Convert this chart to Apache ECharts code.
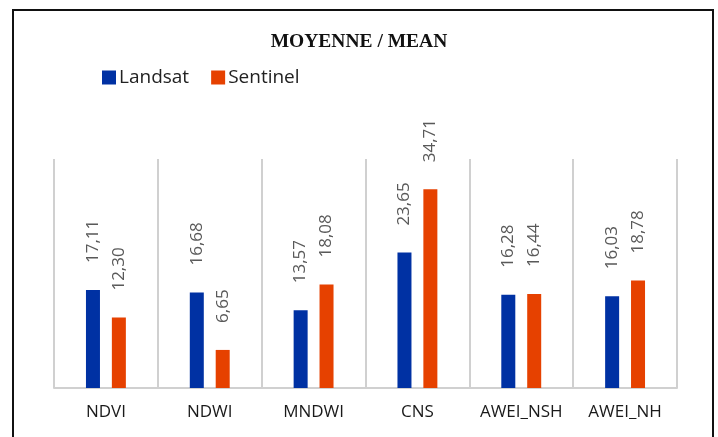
<!DOCTYPE html>
<html>
<head>
<meta charset="utf-8">
<script src="https://cdn.jsdelivr.net/npm/echarts@6/dist/echarts.min.js"></script>
<style>
  html, body { margin: 0; padding: 0; background: #fff; }
  #chart { width: 718px; height: 437px; }
</style>
</head>
<body>
<div id="chart"></div>
<script>
const categories = ['NDVI', 'NDWI', 'MNDWI', 'CNS', 'AWEI_NSH', 'AWEI_NH'];
const landsat = [17.11, 16.68, 13.57, 23.65, 16.28, 16.03];
const sentinel = [12.30, 6.65, 18.08, 34.71, 16.44, 18.78];

const chart = echarts.init(document.getElementById('chart'));

function commaLabel(p) {
  return p.value.toFixed(2).replace('.', ',');
}

const labelStyle = {
  show: true,
  position: 'top',
  distance: 27,
  rotate: 90,
  align: 'left',
  verticalAlign: 'middle',
  color: '#595959',
  fontFamily: 'Open Sans',
  fontSize: 17,
  formatter: commaLabel
};

const option = {
  backgroundColor: '#fff',
  animation: false,
  title: {
    text: 'MOYENNE / MEAN',
    left: 'center',
    top: 27,
    textStyle: {
      fontFamily: 'Liberation Serif',
      fontWeight: 'bold',
      fontSize: 19.5,
      color: '#111'
    }
  },
  legend: {
    left: 97,
    top: 63,
    icon: 'rect',
    itemWidth: 14,
    itemHeight: 14,
    itemGap: 22,
    textStyle: { fontFamily: 'Open Sans', fontSize: 19, color: '#222', padding: [0, 0, 0, -2] },
    data: ['Landsat', 'Sentinel']
  },
  graphic: [{
    type: 'rect',
    shape: { x: 13, y: 10, width: 700, height: 440 },
    style: { fill: 'none', stroke: '#111', lineWidth: 2 },
    silent: true
  }],
  grid: { left: 54, right: 41, top: 159, bottom: 49 },
  xAxis: {
    type: 'category',
    data: categories,
    axisLine: { lineStyle: { color: '#d0d0d0', width: 2 } },
    axisTick: { show: false },
    axisLabel: { interval: 0, color: '#1a1a1a', fontFamily: 'Open Sans', fontSize: 17, margin: 16 },
    splitLine: { show: true, interval: 0, lineStyle: { color: '#d0d0d0', width: 2 } }
  },
  yAxis: {
    type: 'value',
    min: 0,
    max: 40,
    show: false,
    splitLine: { show: false }
  },
  series: [
    {
      name: 'Landsat',
      type: 'bar',
      data: landsat,
      barWidth: 14,
      barGap: '85%',
      itemStyle: { color: '#0031a3' },
      label: labelStyle
    },
    {
      name: 'Sentinel',
      type: 'bar',
      data: sentinel,
      barWidth: 14,
      itemStyle: { color: '#e64100' },
      label: labelStyle
    }
  ]
};

chart.setOption(option);
</script>
</body>
</html>
